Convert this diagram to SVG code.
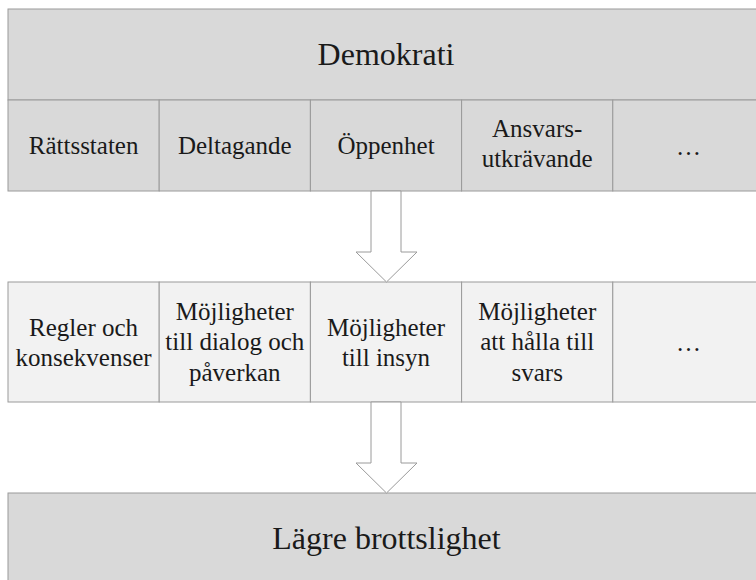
<svg xmlns="http://www.w3.org/2000/svg" width="756" height="580" viewBox="0 0 756 580">
<style>
.dark{fill:#d9d9d9;stroke:#9a9a9a;stroke-width:1}
.light{fill:#f2f2f2;stroke:#9a9a9a;stroke-width:1}
.arrow{fill:#ffffff;stroke:#9a9a9a;stroke-width:1}
.t{fill:#1a1a1a;text-anchor:middle}
.big{font-size:32px}
.mid{font-size:25px}
</style>
<rect width="756" height="580" fill="#ffffff"/>
<g font-family="'Liberation Serif', 'Times New Roman', serif">
<g id="demokrati">
<rect class="dark" x="8" y="9" width="756" height="91"/>
<text class="t big" x="386" y="65">Demokrati</text>
</g>
<g id="rattsstaten">
<rect class="dark" x="8" y="100" width="151.2" height="91"/>
<text class="t mid" x="83.6" y="154">Rättsstaten</text>
</g>
<g id="deltagande">
<rect class="dark" x="159.2" y="100" width="151.2" height="91"/>
<text class="t mid" x="234.8" y="154">Deltagande</text>
</g>
<g id="oppenhet">
<rect class="dark" x="310.4" y="100" width="151.2" height="91"/>
<text class="t mid" x="386" y="154">Öppenhet</text>
</g>
<g id="ansvarsutkravande">
<rect class="dark" x="461.6" y="100" width="151.2" height="91"/>
<text class="t mid" x="537.2" y="137">Ansvars-</text>
<text class="t mid" x="537.2" y="167">utkrävande</text>
</g>
<g id="etc1">
<rect class="dark" x="612.8" y="100" width="151.2" height="91"/>
<text class="t mid" x="688.4" y="155">…</text>
</g>
<g id="regler">
<rect class="light" x="8" y="282" width="151.2" height="120"/>
<text class="t mid" x="83.6" y="336">Regler och</text>
<text class="t mid" x="83.6" y="366">konsekvenser</text>
</g>
<g id="dialog">
<rect class="light" x="159.2" y="282" width="151.2" height="120"/>
<text class="t mid" x="234.8" y="320">Möjligheter</text>
<text class="t mid" x="234.8" y="350">till dialog och</text>
<text class="t mid" x="234.8" y="381">påverkan</text>
</g>
<g id="insyn">
<rect class="light" x="310.4" y="282" width="151.2" height="120"/>
<text class="t mid" x="386" y="336">Möjligheter</text>
<text class="t mid" x="386" y="366">till insyn</text>
</g>
<g id="svars">
<rect class="light" x="461.6" y="282" width="151.2" height="120"/>
<text class="t mid" x="537.2" y="320">Möjligheter</text>
<text class="t mid" x="537.2" y="350">att hålla till</text>
<text class="t mid" x="537.2" y="381">svars</text>
</g>
<g id="etc2">
<rect class="light" x="612.8" y="282" width="151.2" height="120"/>
<text class="t mid" x="688.4" y="351">…</text>
</g>
<g id="brottslighet">
<rect class="dark" x="8" y="493" width="756" height="100"/>
<text class="t big" x="386.5" y="549">Lägre brottslighet</text>
</g>
</g>
<g id="connectors">
<path class="arrow" d="M371,191 L401,191 L401,252 L417,252 L386.5,282 L356,252 L371,252 Z"/>
<path class="arrow" d="M371,402 L401,402 L401,463 L417,463 L386.5,493 L356,463 L371,463 Z"/>
</g>
</svg>
